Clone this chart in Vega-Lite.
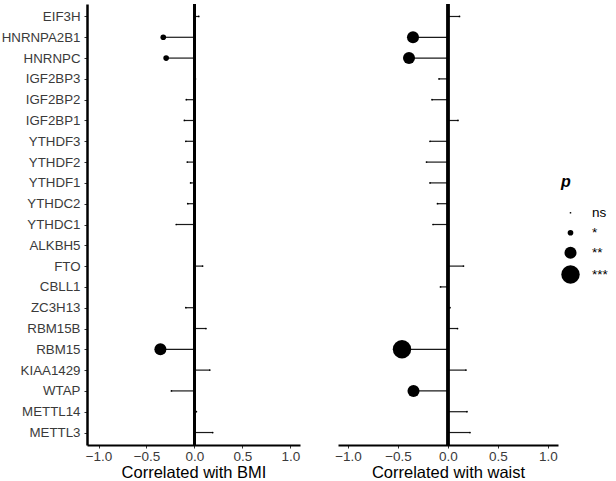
{
  "$schema": "https://vega.github.io/schema/vega-lite/v6.json",
  "padding": {"left": 1, "top": 2, "right": 0, "bottom": 0},
  "background": "white",
  "config": {
    "font": "Liberation Sans",
    "view": {"stroke": null},
    "axis": {"grid": false, "domainColor": "black", "domainWidth": 2.2, "tickColor": "#333", "tickSize": 3, "labelColor": "#3a3a3a", "labelFontSize": 13.5, "titleFontSize": 16.5, "titleFontWeight": "normal", "titleColor": "black"},
    "concat": {"spacing": 34}
  },
  "datasets": {
    "rows": [
      {"gene": "EIF3H", "trait": "BMI", "r": 0.045, "p": "ns"},
      {"gene": "HNRNPA2B1", "trait": "BMI", "r": -0.325, "p": "*"},
      {"gene": "HNRNPC", "trait": "BMI", "r": -0.295, "p": "*"},
      {"gene": "IGF2BP3", "trait": "BMI", "r": 0.01, "p": "ns"},
      {"gene": "IGF2BP2", "trait": "BMI", "r": -0.085, "p": "ns"},
      {"gene": "IGF2BP1", "trait": "BMI", "r": -0.105, "p": "ns"},
      {"gene": "YTHDF3", "trait": "BMI", "r": -0.09, "p": "ns"},
      {"gene": "YTHDF2", "trait": "BMI", "r": -0.075, "p": "ns"},
      {"gene": "YTHDF1", "trait": "BMI", "r": -0.04, "p": "ns"},
      {"gene": "YTHDC2", "trait": "BMI", "r": -0.07, "p": "ns"},
      {"gene": "YTHDC1", "trait": "BMI", "r": -0.19, "p": "ns"},
      {"gene": "ALKBH5", "trait": "BMI", "r": 0.005, "p": "ns"},
      {"gene": "FTO", "trait": "BMI", "r": 0.085, "p": "ns"},
      {"gene": "CBLL1", "trait": "BMI", "r": 0.003, "p": "ns"},
      {"gene": "ZC3H13", "trait": "BMI", "r": -0.09, "p": "ns"},
      {"gene": "RBM15B", "trait": "BMI", "r": 0.12, "p": "ns"},
      {"gene": "RBM15", "trait": "BMI", "r": -0.355, "p": "**"},
      {"gene": "KIAA1429", "trait": "BMI", "r": 0.16, "p": "ns"},
      {"gene": "WTAP", "trait": "BMI", "r": -0.24, "p": "ns"},
      {"gene": "METTL14", "trait": "BMI", "r": 0.02, "p": "ns"},
      {"gene": "METTL3", "trait": "BMI", "r": 0.19, "p": "ns"},
      {"gene": "EIF3H", "trait": "waist", "r": 0.115, "p": "ns"},
      {"gene": "HNRNPA2B1", "trait": "waist", "r": -0.35, "p": "**"},
      {"gene": "HNRNPC", "trait": "waist", "r": -0.39, "p": "**"},
      {"gene": "IGF2BP3", "trait": "waist", "r": -0.09, "p": "ns"},
      {"gene": "IGF2BP2", "trait": "waist", "r": -0.16, "p": "ns"},
      {"gene": "IGF2BP1", "trait": "waist", "r": 0.10, "p": "ns"},
      {"gene": "YTHDF3", "trait": "waist", "r": -0.18, "p": "ns"},
      {"gene": "YTHDF2", "trait": "waist", "r": -0.215, "p": "ns"},
      {"gene": "YTHDF1", "trait": "waist", "r": -0.18, "p": "ns"},
      {"gene": "YTHDC2", "trait": "waist", "r": -0.105, "p": "ns"},
      {"gene": "YTHDC1", "trait": "waist", "r": -0.15, "p": "ns"},
      {"gene": "ALKBH5", "trait": "waist", "r": 0.003, "p": "ns"},
      {"gene": "FTO", "trait": "waist", "r": 0.155, "p": "ns"},
      {"gene": "CBLL1", "trait": "waist", "r": -0.075, "p": "ns"},
      {"gene": "ZC3H13", "trait": "waist", "r": 0.02, "p": "ns"},
      {"gene": "RBM15B", "trait": "waist", "r": 0.095, "p": "ns"},
      {"gene": "RBM15", "trait": "waist", "r": -0.46, "p": "***"},
      {"gene": "KIAA1429", "trait": "waist", "r": 0.18, "p": "ns"},
      {"gene": "WTAP", "trait": "waist", "r": -0.345, "p": "**"},
      {"gene": "METTL14", "trait": "waist", "r": 0.19, "p": "ns"},
      {"gene": "METTL3", "trait": "waist", "r": 0.22, "p": "ns"}
    ]
  },
  "hconcat": [
    {
      "width": 213,
      "height": 441,
      "data": {"name": "rows"},
      "transform": [{"filter": "datum.trait === 'BMI'"}],
      "encoding": {
        "y": {"field": "gene", "type": "nominal", "sort": ["EIF3H","HNRNPA2B1","HNRNPC","IGF2BP3","IGF2BP2","IGF2BP1","YTHDF3","YTHDF2","YTHDF1","YTHDC2","YTHDC1","ALKBH5","FTO","CBLL1","ZC3H13","RBM15B","RBM15","KIAA1429","WTAP","METTL14","METTL3"], "scale": {"type": "point", "padding": 0.6}, "axis": {"title": null, "labelPadding": 4, "labelFontSize": 13.3, "domainWidth": 2.5}},
        "x": {"field": "r", "type": "quantitative", "scale": {"domain": [-1.12, 1.1], "nice": false, "zero": false}, "axis": {"title": "Correlated with BMI", "values": [-1, -0.5, 0, 0.5, 1], "format": ".1f", "labelPadding": 1, "titlePadding": 2}}
      },
      "layer": [
        {
          "mark": {"type": "rule", "color": "#1a1a1a", "strokeWidth": 1.2},
          "encoding": {"x2": {"datum": 0}}
        },
        {
          "mark": {"type": "circle", "color": "black", "opacity": 1},
          "encoding": {
            "size": {"field": "p", "type": "nominal", "scale": {"type": "ordinal", "domain": ["ns", "*", "**", "***"], "range": [3, 32, 145, 340]}, "legend": {"title": "p", "titleFontStyle": "italic", "titleFontWeight": "bold", "titleFontSize": 16, "titlePadding": 16, "labelFontSize": 13.5, "labelColor": "black", "symbolFillColor": "black", "symbolStrokeWidth": 0, "symbolType": "circle", "orient": "none", "legendX": 474, "legendY": 170, "rowPadding": 5, "labelOffset": 12, "padding": 0}}
          }
        },
        {
          "mark": {"type": "rule", "color": "black", "strokeWidth": 2.2},
          "encoding": {"x": {"datum": 0}, "y": null}
        }
      ]
    },
    {
      "width": 220,
      "height": 441,
      "data": {"name": "rows"},
      "transform": [{"filter": "datum.trait === 'waist'"}],
      "encoding": {
        "y": {"field": "gene", "type": "nominal", "sort": ["EIF3H","HNRNPA2B1","HNRNPC","IGF2BP3","IGF2BP2","IGF2BP1","YTHDF3","YTHDF2","YTHDF1","YTHDC2","YTHDC1","ALKBH5","FTO","CBLL1","ZC3H13","RBM15B","RBM15","KIAA1429","WTAP","METTL14","METTL3"], "scale": {"type": "point", "padding": 0.6}, "axis": null},
        "x": {"field": "r", "type": "quantitative", "scale": {"domain": [-1.1, 1.1], "nice": false, "zero": false}, "axis": {"title": "Correlated with waist", "values": [-1, -0.5, 0, 0.5, 1], "format": ".1f", "labelPadding": 1, "titlePadding": 2}}
      },
      "layer": [
        {
          "mark": {"type": "rule", "color": "#1a1a1a", "strokeWidth": 1.2},
          "encoding": {"x2": {"datum": 0}}
        },
        {
          "mark": {"type": "circle", "color": "black", "opacity": 1},
          "encoding": {
            "size": {"field": "p", "type": "nominal", "scale": {"type": "ordinal", "domain": ["ns", "*", "**", "***"], "range": [3, 32, 145, 340]}}
          }
        },
        {
          "mark": {"type": "rule", "color": "black", "strokeWidth": 2.2},
          "encoding": {"x": {"datum": 0}, "y": null}
        }
      ]
    }
  ]
}
